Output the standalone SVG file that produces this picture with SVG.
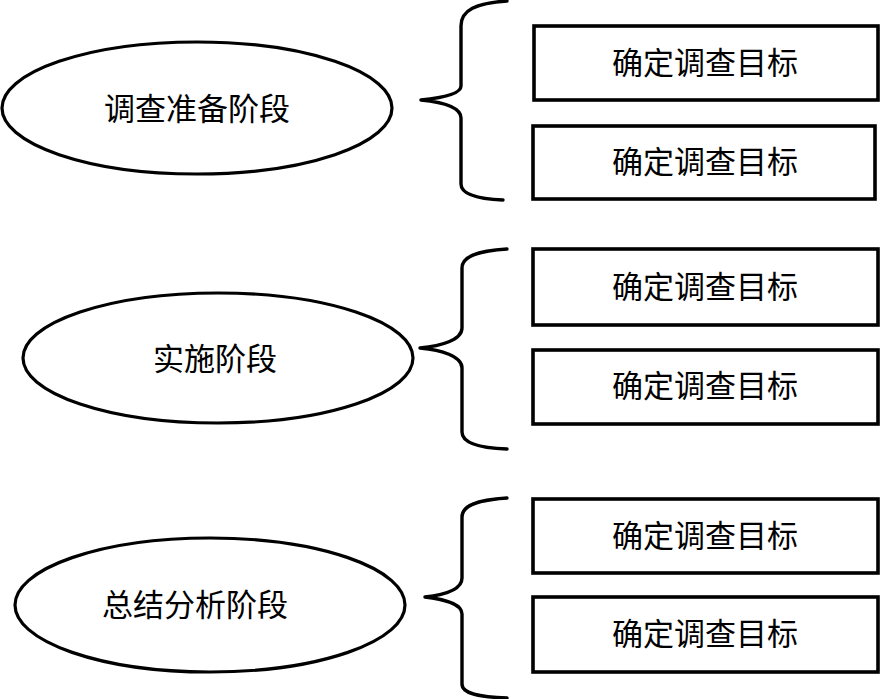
<svg xmlns="http://www.w3.org/2000/svg" width="880" height="699" viewBox="0 0 880 699">
<style>
.bg{fill:#fff}
.oval{fill:#fff;stroke:#000;stroke-width:3.2}
.box{fill:#fff;stroke:#000;stroke-width:3.6}
.brace{fill:none;stroke:#000;stroke-width:3.4;stroke-linecap:round;stroke-linejoin:round}
.t{font-family:"Liberation Serif","Noto Sans CJK SC",serif;font-size:31px;fill:#000;text-anchor:middle;dominant-baseline:central}
</style>
<rect class="bg" x="0" y="0" width="880" height="699"/>
<g id="connectors">
<path class="brace" d="M507,1 C476,3 461,10 461,26 L461,86 C461,94 441,98 421,100 C441,102 461,107 461,118 L461,184 C461,195 480,199 503,200"/>
<path class="brace" d="M507,249 C476,251 462,257 462,268 L462,328 C462,340 441,346 420,348 C441,350 462,356 462,368 L462,432 C462,443 480,448 507,449"/>
<path class="brace" d="M507,498 C476,500 462,506 462,517 L462,578 C462,590 443,595 425,597 C443,599 462,604 462,614 L462,684 C462,694 480,697 507,698"/>
</g>
<g id="stage1"><ellipse class="oval" cx="197" cy="108" rx="195" ry="66"/><text class="t" x="197" y="109">调查准备阶段</text></g>
<g id="stage2"><ellipse class="oval" cx="218" cy="358" rx="195" ry="65"/><text class="t" x="215" y="359">实施阶段</text></g>
<g id="stage3"><ellipse class="oval" cx="210" cy="605" rx="195" ry="67"/><text class="t" x="195" y="605">总结分析阶段</text></g>
<g id="task1"><rect class="box" x="534" y="26" width="344" height="74"/><text class="t" x="705" y="63">确定调查目标</text></g>
<g id="task2"><rect class="box" x="533" y="126" width="342" height="73"/><text class="t" x="705" y="162">确定调查目标</text></g>
<g id="task3"><rect class="box" x="533" y="249" width="345" height="76"/><text class="t" x="705" y="287">确定调查目标</text></g>
<g id="task4"><rect class="box" x="533" y="350" width="345" height="74"/><text class="t" x="705" y="386">确定调查目标</text></g>
<g id="task5"><rect class="box" x="533" y="499" width="345" height="74"/><text class="t" x="705" y="536">确定调查目标</text></g>
<g id="task6"><rect class="box" x="533" y="597" width="345" height="75"/><text class="t" x="705" y="634">确定调查目标</text></g>
</svg>
